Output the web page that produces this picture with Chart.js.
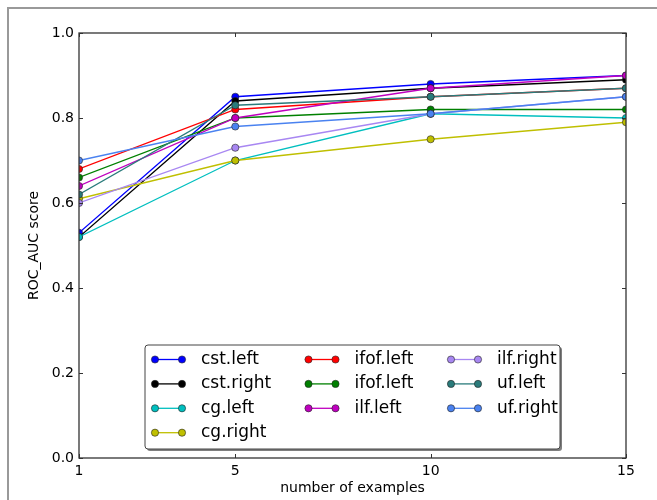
<!DOCTYPE html>
<html>
<head>
<meta charset="utf-8">
<script src="https://cdn.jsdelivr.net/npm/chart.js@4/dist/chart.umd.min.js"></script>
<style>
  body { margin: 0; background: #fff; overflow: hidden; }
  #wrap { position: relative; width: 657px; height: 500px; overflow: hidden; }
  #frame { position: absolute; left: 7px; top: 7px; width: 700px; height: 600px; border: 2px solid #999; }
  canvas { position: absolute; left: 0; top: 0; }
</style>
</head>
<body>
<div id="wrap">
  <div id="frame"></div>
  <canvas id="chart" width="657" height="500"></canvas>
</div>
<script>
const xValues = [1, 5, 10, 15];
const xTicks = [1, 5, 10, 15];
const yTicks = [0, 0.2, 0.4, 0.6, 0.8, 1.0];

const seriesNames = ['cst.left', 'cst.right', 'cg.left', 'cg.right', 'ifof.left', 'ifof.left', 'ilf.left', 'ilf.right', 'uf.left', 'uf.right'];

const cstLeft   = [0.53, 0.85, 0.88, 0.90];
const cstRight  = [0.52, 0.84, 0.87, 0.89];
const cgLeft    = [0.52, 0.70, 0.81, 0.80];
const cgRight   = [0.61, 0.70, 0.75, 0.79];
const ifofLeft  = [0.68, 0.82, 0.85, 0.87];
const ifofLeft2 = [0.66, 0.80, 0.82, 0.82];
const ilfLeft   = [0.64, 0.80, 0.87, 0.90];
const ilfRight  = [0.60, 0.73, 0.81, 0.85];
const ufLeft    = [0.62, 0.83, 0.85, 0.87];
const ufRight   = [0.70, 0.78, 0.81, 0.85];

const seriesValues = [cstLeft, cstRight, cgLeft, cgRight, ifofLeft, ifofLeft2, ilfLeft, ilfRight, ufLeft, ufRight];
const seriesColors = ['#0000ff', '#000000', '#00bfbf', '#bfbf00', '#ff0000', '#008000', '#bf00bf', '#a887f2', '#2a7b7b', '#4a82f0'];

const FONT = "'DejaVu Sans', sans-serif";

// matplotlib style: inside ticks on all sides, frame, legend box at lower center
const mplAxes = {
  id: 'mplAxes',
  afterDatasetsDraw(chart) {
    const ctx = chart.ctx;
    const a = chart.chartArea;
    const xs = chart.scales.x, ys = chart.scales.y;
    ctx.save();
    ctx.strokeStyle = '#333';
    ctx.lineWidth = 1;
    ctx.beginPath();
    xs.ticks.forEach(t => {
      const px = Math.round(xs.getPixelForValue(t.value)) + 0.5;
      ctx.moveTo(px, a.bottom); ctx.lineTo(px, a.bottom - 4);
      ctx.moveTo(px, a.top); ctx.lineTo(px, a.top + 4);
    });
    ys.ticks.forEach(t => {
      const py = Math.round(ys.getPixelForValue(t.value)) + 0.5;
      ctx.moveTo(a.left, py); ctx.lineTo(a.left + 4, py);
      ctx.moveTo(a.right, py); ctx.lineTo(a.right - 4, py);
    });
    ctx.stroke();
    ctx.lineWidth = 1.3;
    ctx.strokeRect(a.left, a.top, a.right - a.left, a.bottom - a.top);
    ctx.restore();
  },
  afterDraw(chart) {
    const ctx = chart.ctx;
    const a = chart.chartArea;
    const boxW = 415, boxH = 104;
    const bx = (a.left + a.right) / 2 - boxW / 2;
    const by = a.bottom - 9 - boxH;
    ctx.save();
    ctx.fillStyle = 'rgba(0,0,0,0.5)';
    ctx.beginPath(); ctx.roundRect(bx + 2, by + 2, boxW, boxH, 3); ctx.fill();
    ctx.fillStyle = '#fff';
    ctx.strokeStyle = '#444';
    ctx.lineWidth = 1;
    ctx.beginPath(); ctx.roundRect(bx, by, boxW, boxH, 3); ctx.fill(); ctx.stroke();

    const colX = [10, 163.5, 306];
    const perCol = [4, 3, 3];
    ctx.font = '17px ' + FONT;
    ctx.textBaseline = 'middle';
    let k = 0;
    chart.data.datasets.forEach(() => {});
    for (let c = 0; c < 3; c++) {
      for (let r = 0; r < perCol[c]; r++, k++) {
        const ds = chart.data.datasets[k];
        const x0 = bx + colX[c], x1 = x0 + 27;
        const y = by + 14.5 + r * 24.4;
        ctx.strokeStyle = ds.borderColor;
        ctx.lineWidth = 1.3;
        ctx.beginPath(); ctx.moveTo(x0, y); ctx.lineTo(x1, y); ctx.stroke();
        [x0, x1].forEach(px => {
          ctx.beginPath(); ctx.arc(px, y, 3.6, 0, Math.PI * 2);
          ctx.fillStyle = ds.backgroundColor; ctx.fill();
          ctx.strokeStyle = '#222'; ctx.lineWidth = 0.6; ctx.stroke();
        });
        ctx.fillStyle = '#000';
        ctx.fillText(ds.label, x0 + 46, y);
      }
    }
    ctx.restore();
  }
};

const datasets = seriesNames.map((name, i) => ({
  label: name,
  data: xValues.map((x, j) => ({ x: x, y: seriesValues[i][j] })),
  borderColor: seriesColors[i],
  backgroundColor: seriesColors[i],
  pointBackgroundColor: seriesColors[i],
  pointBorderColor: '#222',
  pointBorderWidth: 0.6,
  pointRadius: 3.6,
  borderWidth: 1.3,
  tension: 0,
  clip: 0,
  order: seriesNames.length - i
}));

new Chart(document.getElementById('chart'), {
  type: 'line',
  data: { datasets: datasets },
  options: {
    responsive: false,
    animation: false,
    layout: { padding: { left: 0, top: 33, right: 31, bottom: 0 } },
    plugins: { legend: { display: false }, tooltip: { enabled: false } },
    scales: {
      x: {
        type: 'linear',
        min: 1, max: 15,
        afterBuildTicks: s => { s.ticks = xTicks.map(v => ({ value: v })); },
        afterFit: s => { s.height = 42; },
        grid: { display: false, drawTicks: false },
        border: { display: false },
        ticks: { padding: 5, color: '#000', font: { family: FONT, size: 14 }, maxRotation: 0 },
        title: { display: true, text: 'number of examples', color: '#000', padding: 3, font: { family: FONT, size: 14 } }
      },
      y: {
        min: 0, max: 1,
        afterBuildTicks: s => { s.ticks = yTicks.map(v => ({ value: v })); },
        afterFit: s => { s.width = 79; },
        grid: { display: false, drawTicks: false },
        border: { display: false },
        ticks: { padding: 5, color: '#000', font: { family: FONT, size: 14 }, callback: v => v.toFixed(1) },
        title: { display: true, text: 'ROC_AUC score', color: '#000', padding: 26, font: { family: FONT, size: 14 } }
      }
    }
  },
  plugins: [mplAxes]
});
</script>
</body>
</html>
